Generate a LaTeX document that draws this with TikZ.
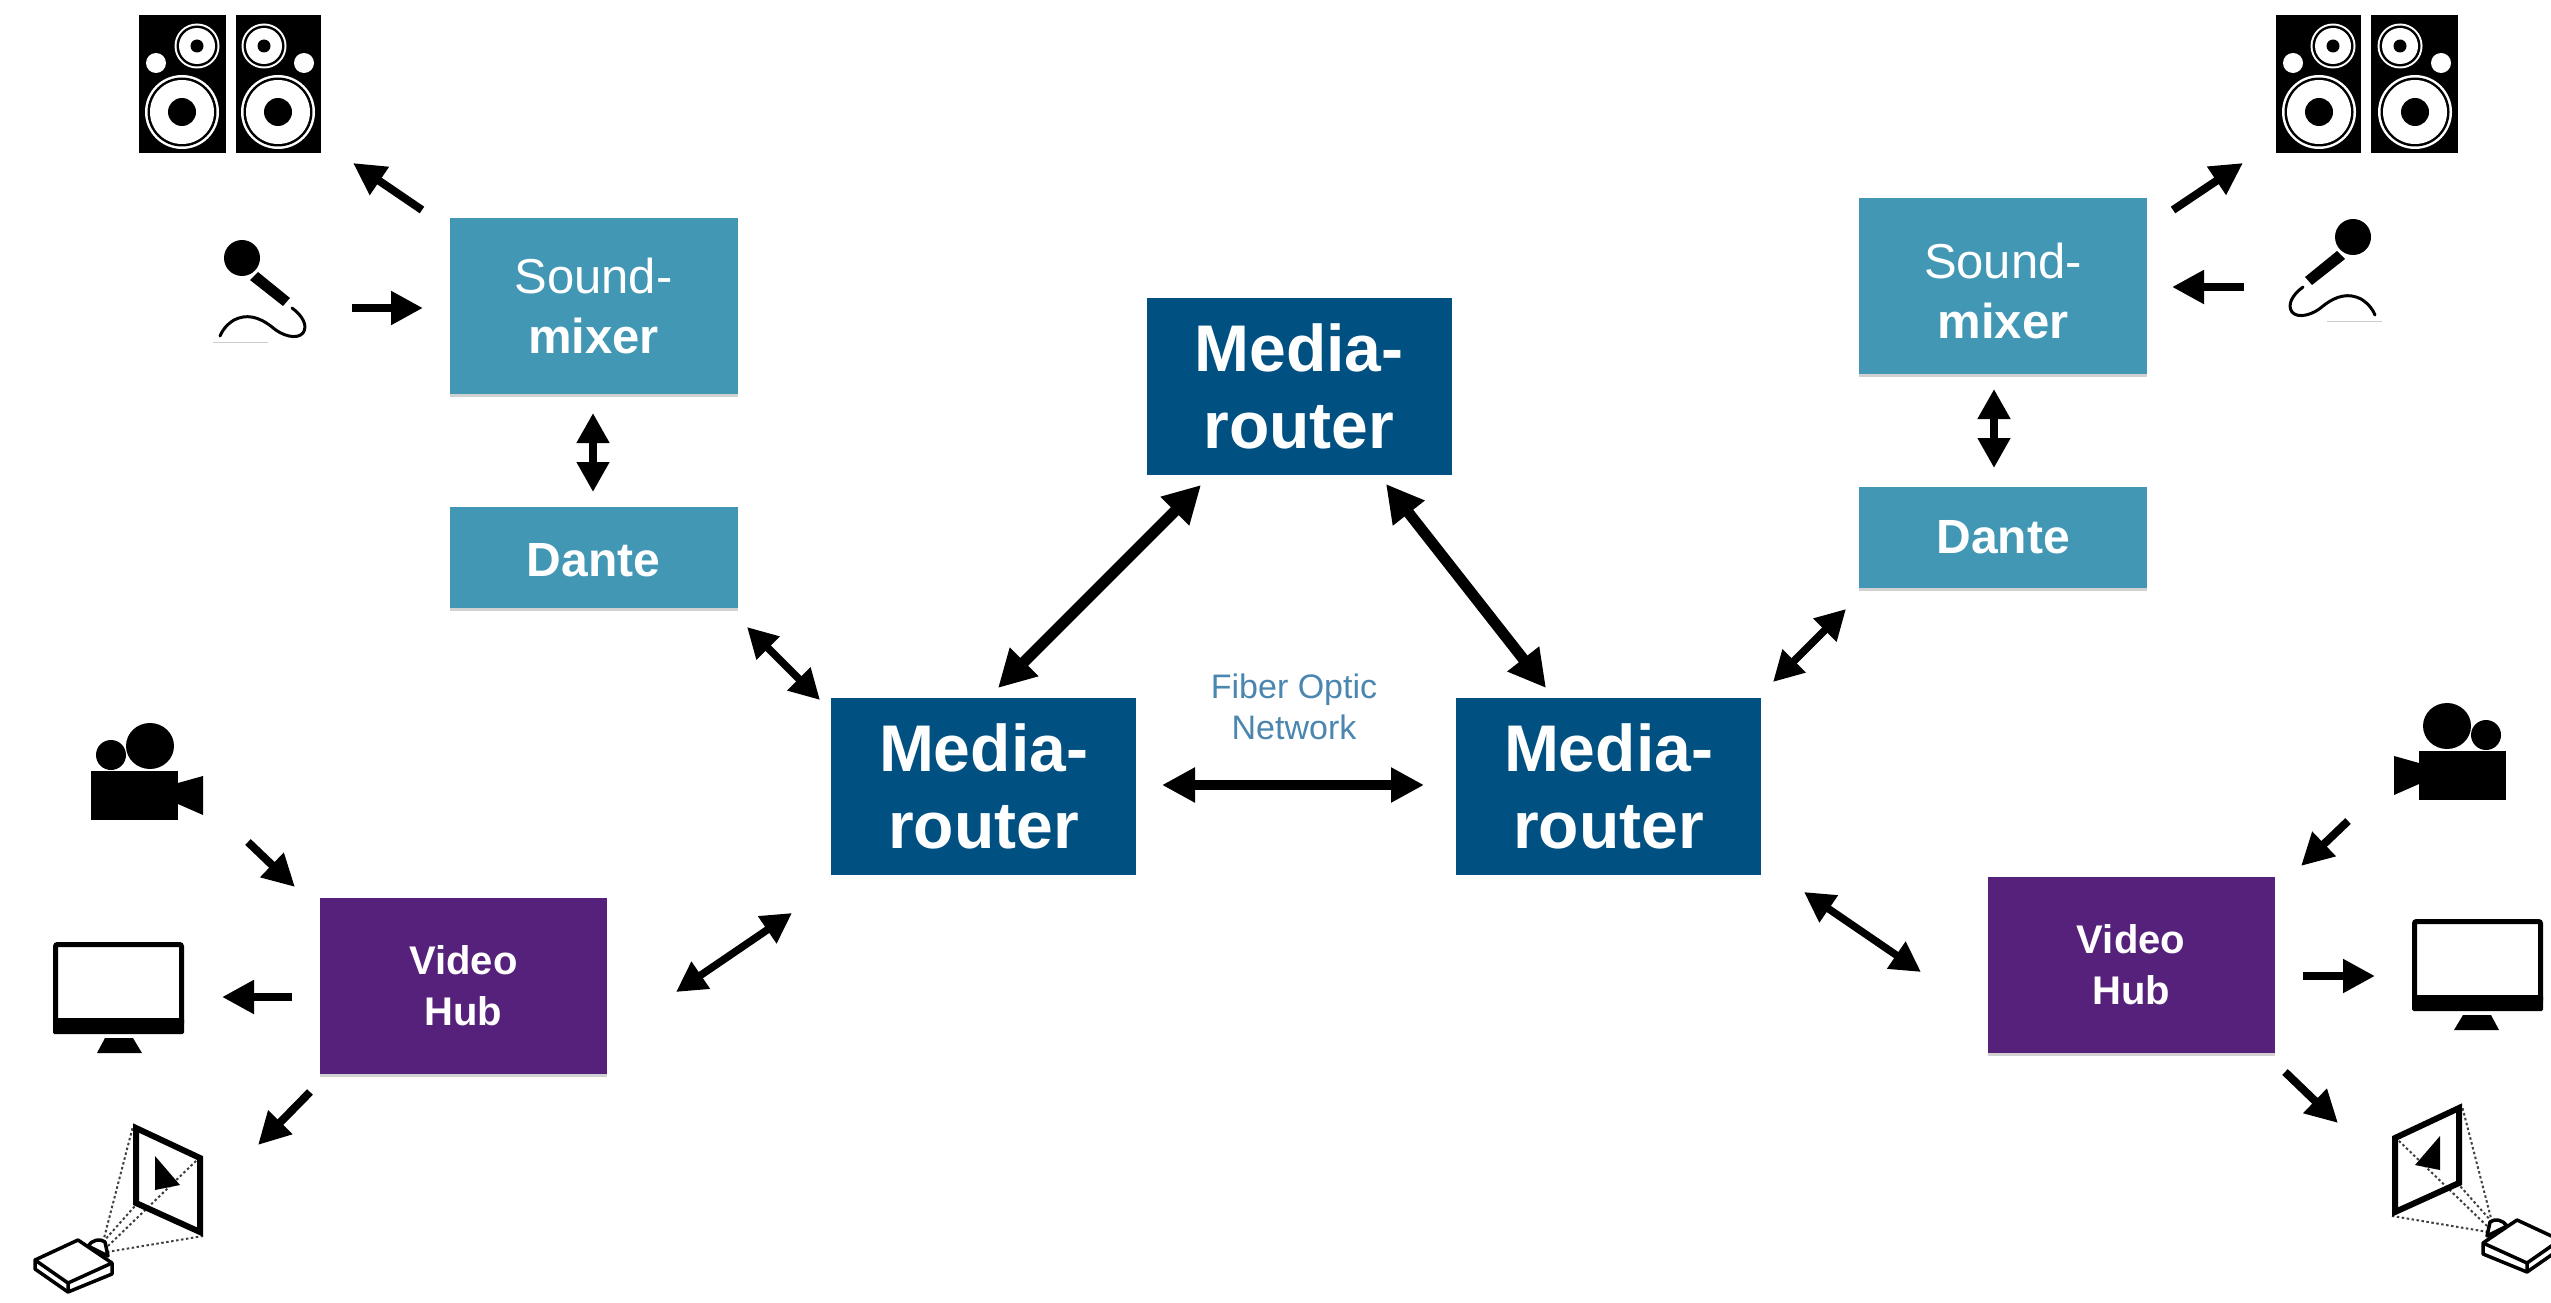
\documentclass[tikz,border=0pt]{standalone}
\usepackage{fontspec}
\setmainfont{Liberation Sans}
\usetikzlibrary{arrows.meta,shadows}
\definecolor{routerblue}{HTML}{005082}
\definecolor{mixerteal}{HTML}{4297B5}
\definecolor{hubpurple}{HTML}{56217A}
\definecolor{fibertext}{HTML}{4A86B0}
\tikzset{
  boxbase/.style={rectangle,inner sep=0pt,text=white,align=center},
  softshadow/.style={copy shadow={shadow xshift=0pt,shadow yshift=-2.5pt,draw=none,fill=black!18}},
  routerbox/.style={boxbase,fill=routerblue,minimum width=305pt,minimum height=177pt,
    font=\fontsize{66}{77}\selectfont\bfseries},
  mixerbox/.style={boxbase,softshadow,fill=mixerteal,minimum width=288pt,minimum height=176pt,
    font=\fontsize{49}{60}\selectfont},
  dantebox/.style={boxbase,softshadow,fill=mixerteal,minimum width=288pt,minimum height=101pt,
    font=\fontsize{48}{58}\selectfont\bfseries},
  hubbox/.style={boxbase,softshadow,fill=hubpurple,minimum width=287pt,minimum height=176pt,
    font=\fontsize{40}{51}\selectfont\bfseries},
  arrbig/.style={line width=11pt,{Triangle[length=37pt,width=38pt]}-{Triangle[length=37pt,width=38pt]}},
  arrmid/.style={line width=9.5pt,{Triangle[length=33pt,width=33pt]}-{Triangle[length=33pt,width=33pt]}},
  arrsmall/.style={line width=7.5pt,{Triangle[length=30pt,width=31pt]}-{Triangle[length=30pt,width=31pt]}},
  arrone/.style={line width=8pt,-{Triangle[length=32pt,width=32pt]}},
  speakers/.pic={
    \fill[black] (139,15) rectangle (226,153);
    \fill[black] (236,15) rectangle (321,153);
    \foreach \bx/\tx/\dx in {182/197/156,278/264/304}{
      \fill[white] (\bx,112) circle (37);
      \fill[black] (\bx,112) circle (34.5);
      \fill[white] (\bx,112) circle (32);
      \fill[black] (\bx,112) circle (14);
      \fill[white] (\tx,46) circle (22.5);
      \fill[black] (\tx,46) circle (20.5);
      \fill[white] (\tx,46) circle (18);
      \fill[black] (\tx,46) circle (6.5);
      \fill[white] (\dx,63) circle (10);
    }
  },
  micro/.pic={
    \fill[black] (242,258) circle (18);
    \fill[black] (250,280) -- (258,272) -- (290,298) -- (283,306) -- cycle;
    \draw[black,line width=3pt,line cap=round] (292,308) .. controls (303,316) and (308,326) .. (303,333)
      .. controls (297,340) and (282,336) .. (272,327)
      .. controls (258,316) and (246,314) .. (234,320)
      .. controls (226,325) and (222,331) .. (220,336);
    \draw[black!20,line width=1pt] (213,342) -- (268,342);
  },
  camcorder/.pic={
    \fill[black] (91,771) rectangle (178,820);
    \fill[black] (178,783) -- (203,776) -- (203,815) -- (178,804) -- cycle;
    \fill[black] (150,746) ellipse [x radius=24,y radius=23];
    \fill[black] (111,755) ellipse [x radius=15,y radius=15];
  },
  monitor/.pic={
    \draw[black,line width=5pt,rounded corners=2pt] (55.5,944.5) rectangle (181.5,1025);
    \fill[black,rounded corners=1.5pt] (53,1018) rectangle (184,1034);
    \fill[black] (105,1038) -- (133,1038) -- (142,1053) -- (97,1053) -- cycle;
  },
  projector/.pic={
    \draw[black!75,dash pattern=on 2.5pt off 2.5pt,line width=2pt] (103,1242) -- (133,1126)
      (103,1242) -- (135,1206) (108,1246) -- (197,1160) (107,1252) -- (203,1236);
    \draw[black,line width=6pt,miter limit=10] (136,1128) -- (200,1158) -- (200,1232) -- (136,1203) -- cycle;
    \fill[black] (155,1156) -- (180,1185) -- (155,1190) -- cycle;
    \draw[black,line width=3.5pt,fill=white,line join=round] (88,1246) .. controls (92,1240) and (100,1238) .. (105,1242) -- (108,1256) -- cycle;
    \draw[black,line width=3.5pt,fill=white,line join=round]
      (35,1260) -- (35,1269) -- (68,1292) -- (112,1274) -- (112,1263) -- (78,1240) -- cycle;
    \draw[black,line width=3.5pt,line join=round] (35,1260) -- (68,1283) -- (112,1263) (68,1283) -- (68,1292);
  }
}
\begin{document}
\begin{tikzpicture}[x=1pt,y=-1pt]
\useasboundingbox (0,0) rectangle (2551,1303);
\clip (0,0) rectangle (2551,1303);
\fill[white] (0,0) rectangle (2551,1303);

% boxes
\node[routerbox] (mT) at (1299,386.5) {Media-\\router};
\node[routerbox] (mL) at (983.5,786.5) {Media-\\router};
\node[routerbox] (mR) at (1608.5,786.5) {Media-\\router};
\node[mixerbox] (sL) at (593.5,306) {Sound-\\\bfseries mixer};
\node[dantebox] (dL) at (593.5,557.5) {\rule{0pt}{38pt}Dante};
\node[mixerbox] (sR) at (2003,286) {\rule{0pt}{46pt}Sound-\\\bfseries mixer};
\node[dantebox] (dR) at (2003,537.5) {Dante};
\node[hubbox] (vL) at (463.5,986) {Video\\Hub};
\node[hubbox] (vR) at (2131,965) {Video\\Hub};
\node[text=fibertext,align=center,inner sep=0pt,font=\fontsize{34}{41}\selectfont] (fib) at (1294,707) {Fiber Optic\\Network};

% icons
\pic at (0,0) {speakers};
\pic[xscale=-1] at (2597,0) {speakers};
\pic at (0,0) {micro};
\pic[xscale=-1] at (2595,-21) {micro};
\pic at (0,0) {camcorder};
\pic[xscale=-1] at (2597,-20) {camcorder};
\pic at (0,0) {monitor};
\pic[xscale=-1] at (2596,-23) {monitor};
\pic at (0,0) {projector};
\pic[xscale=-1] at (2595,-20) {projector};

% free ends of connectors
\coordinate (a1) at (998,688);   \coordinate (a2) at (1201,485);
\coordinate (b1) at (1386,484);  \coordinate (b2) at (1546,688);
\coordinate (c1) at (1162,785);  \coordinate (c2) at (1424,785);
\coordinate (d1) at (747,627);   \coordinate (d2) at (820,700);
\coordinate (e1) at (1846,609);  \coordinate (e2) at (1773,682);
\coordinate (f1) at (593,413);   \coordinate (f2) at (593,492);
\coordinate (g1) at (1994,389);  \coordinate (g2) at (1994,468);
\coordinate (h1) at (792,913);   \coordinate (h2) at (676,992);
\coordinate (i1) at (1804,892);  \coordinate (i2) at (1921,972);
\coordinate (j1) at (422,210);   \coordinate (j2) at (353,163);
\coordinate (k1) at (352,308);   \coordinate (k2) at (423,308);
\coordinate (l1) at (2173,210);  \coordinate (l2) at (2243,163);
\coordinate (m1) at (2244,287);  \coordinate (m2) at (2172,287);
\coordinate (n1) at (248,842);   \coordinate (n2) at (295,887);
\coordinate (o1) at (292,997);   \coordinate (o2) at (222,997);
\coordinate (p1) at (310,1092);  \coordinate (p2) at (258,1145);
\coordinate (q1) at (2348,821);  \coordinate (q2) at (2301,866);
\coordinate (r1) at (2303,976);  \coordinate (r2) at (2375,976);
\coordinate (s1) at (2285,1072); \coordinate (s2) at (2338,1123);

% connectors
\draw[arrbig] (a1) -- (a2);
\draw[arrbig] (b1) -- (b2);
\draw[arrmid] (c1) -- (c2);
\draw[arrsmall] (d1) -- (d2);
\draw[arrsmall] (e1) -- (e2);
\draw[arrsmall] (f1) -- (f2);
\draw[arrsmall] (g1) -- (g2);
\draw[arrsmall] (h1) -- (h2);
\draw[arrsmall] (i1) -- (i2);
\foreach \u/\v in {j1/j2,k1/k2,l1/l2,m1/m2,n1/n2,o1/o2,p1/p2,q1/q2,r1/r2,s1/s2}{
  \draw[arrone] (\u) -- (\v);
}
\end{tikzpicture}
\end{document}
